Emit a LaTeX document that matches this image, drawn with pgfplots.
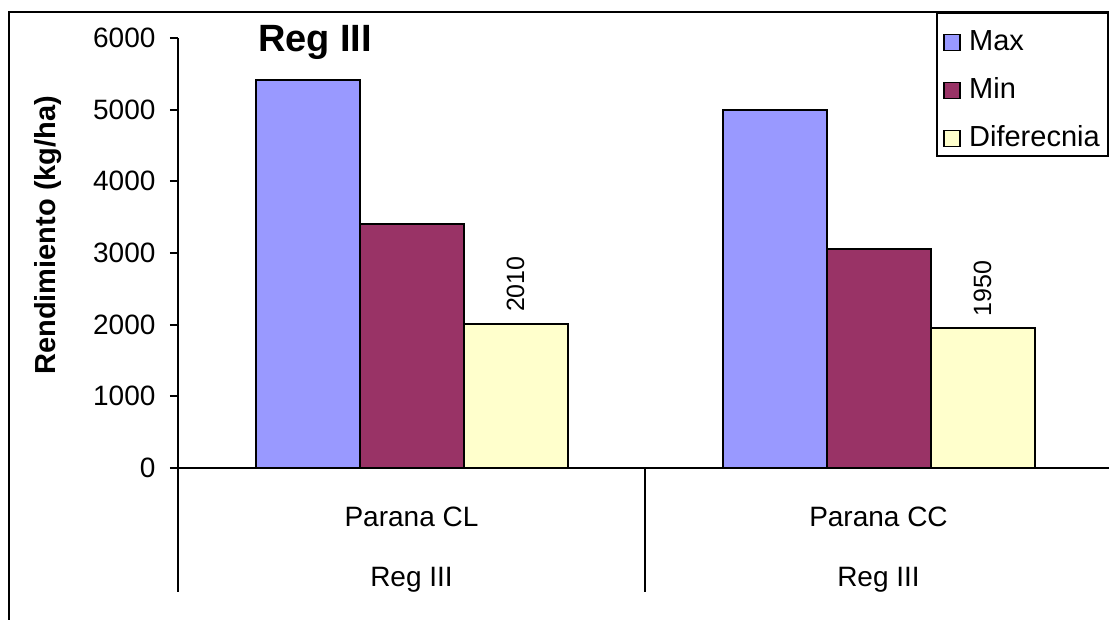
\documentclass[border=0pt]{standalone}
\usepackage{pgfplots}
\pgfplotsset{compat=1.18}
\usepackage{fontspec}
\setmainfont{Liberation Sans}
\definecolor{cmax}{HTML}{9999FF}
\definecolor{cmin}{HTML}{993366}
\definecolor{cdif}{HTML}{FFFFCC}
\pgfplotsset{sq legend/.style={legend image code/.code={\draw[##1, line width=1.8pt] (0pt,-14pt) rectangle (16pt,2pt); \path[draw=none, fill=none] (0pt,-14pt) rectangle (23pt,2pt);}}}
\begin{document}
\begin{tikzpicture}[x=1pt,y=1pt]
\useasboundingbox (0,0) rectangle (1109,620);
\begin{axis}[
  at={(178pt,28pt)}, anchor=south west,
  scale only axis, width=934pt, height=554pt,
  xmin=-0.5, xmax=1.5, ymin=-1730, ymax=6000,
  axis x line=middle, axis y line=left,
  axis line style={-, line width=2pt},
  ybar=0pt, bar width=104pt,
  xtick={0,1},
  xticklabels={{Parana CL\\Reg III},{Parana CC\\Reg III}},
  xtick style={draw=none},
  xticklabel style={align=center, font=\fontsize{28}{60}\selectfont, inner sep=0pt, yshift=-31pt},
  ytick={0,1000,...,6000},
  ytick style={line width=2pt, black},
  major tick length=8pt, tick align=outside,
  yticklabel style={font=\fontsize{28}{34}\selectfont, xshift=-11pt},
  /pgf/number format/assume math mode=true,
  /pgf/number format/set thousands separator={},
  title={Reg III},
  title style={at={(axis description cs:0.1467,0.982)}, anchor=center, font=\bfseries\fontsize{38}{44}\selectfont},
  ylabel={Rendimiento (kg/ha)},
  ylabel style={at={(axis description cs:-0.1392,0.644)}, anchor=center, font=\bfseries\fontsize{29}{34}\selectfont},
  legend style={at={(axis description cs:0.9965,1.0469)}, anchor=north east, draw=black, line width=2pt,
    font=\fontsize{29}{34}\selectfont, row sep=17pt, inner xsep=6pt, inner ysep=8pt, nodes={text depth=0pt, text height=27pt}},
  legend cell align=left,
]
\addplot[fill=cmax, draw=black, line width=2pt, sq legend] coordinates {(0,5410) (1,5000)};
\addplot[fill=cmin, draw=black, line width=2pt, sq legend] coordinates {(0,3400) (1,3050)};
\addplot[fill=cdif, draw=black, line width=2pt, sq legend, nodes near coords,
  nodes near coords style={rotate=90, anchor=west, font=\fontsize{25}{30}\selectfont, inner sep=11pt}] coordinates {(0,2010) (1,1950)};
\legend{Max,Min,Diferecnia}
\draw[line width=2pt] (axis cs:0.5,0) -- (axis cs:0.5,-1730);
\end{axis}
\draw[line width=2pt] (9,0) -- (9,608) -- (1109,608);
\end{tikzpicture}
\end{document}
